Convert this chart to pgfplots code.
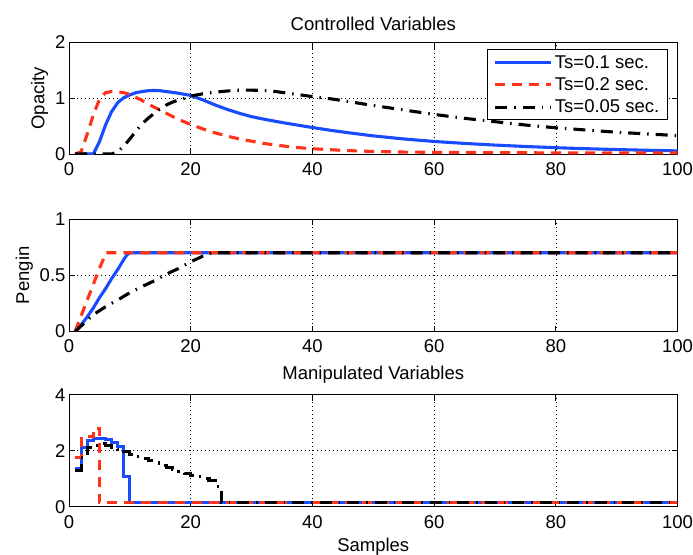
\documentclass[border=0pt]{standalone}
\usepackage{fontspec}
\setmainfont{Liberation Sans}
\usepackage{pgfplots}
\pgfplotsset{compat=1.18}

\definecolor{mblue}{rgb}{0.1,0.3,1}
\definecolor{mred}{rgb}{1,0.2,0.1}

\pgfplotsset{
  mat/.style={
    scale only axis, width=608.5pt, height=111.5pt,
    anchor=south west,
    xmin=0, xmax=100, xtick={0,20,...,100},
    grid=major,
    major grid style={black, line width=0.5pt, dash pattern=on 0.8pt off 3.2pt},
    axis line style={line width=0.9pt},
    tick style={black, line width=0.8pt},
    major tick length=6pt,
    tick align=inside,
    /pgf/number format/assume math mode=true,
    every tick label/.append style={font=\fontsize{18.5}{21}\selectfont},
    xticklabel style={yshift=-5pt},
    label style={font=\fontsize{18.5}{21}\selectfont},
    title style={font=\fontsize{18.5}{21}\selectfont, yshift=2pt},
    xlabel style={yshift=-3pt},
  },
  s1/.style={mblue, line width=3.1pt},
  s2/.style={mred, line width=3.1pt, dash pattern=on 10pt off 7pt},
  s3/.style={black, line width=3.1pt, dash pattern=on 12pt off 7pt on 1.5pt off 7pt},
}

\begin{document}
\begin{tikzpicture}
\useasboundingbox (0,0) rectangle (693pt,-554pt);

% controlled variable: opacity
\begin{axis}[mat, at={(69pt,-154pt)},
  ymin=0, ymax=2, ytick={0,1,2},
  ylabel={Opacity},
  title={Controlled Variables},
  legend style={at={(rel axis cs:0.984,0.94)}, anchor=north east,
    draw=black, line width=0.9pt, fill=white, inner xsep=6pt, inner ysep=3.5pt,
    font=\fontsize{18.5}{21}\selectfont, row sep=4pt},
  legend cell align=left,
  legend image code/.code={\draw[#1] (0pt,0pt) -- (56pt,0pt);},
]
\addplot[s1] coordinates {
(1,0) (4,0) (5,0.22) (6,0.52) (7,0.76) (8,0.92) (9,1.01) (10,1.06) (11,1.10)
(12,1.12) (13,1.135) (14,1.14) (15,1.135) (16,1.12) (18,1.09) (20,1.05)
(22,0.97) (24,0.88) (26,0.80) (28,0.73) (30,0.67) (32,0.625) (35,0.565)
(38,0.51) (40,0.475) (43,0.425) (46,0.38) (50,0.325) (55,0.27) (60,0.225)
(65,0.19) (70,0.16) (75,0.135) (80,0.113) (85,0.095) (90,0.08) (95,0.067) (100,0.056)
};
\addplot[s2] coordinates {
(1,0) (2,0.04) (3,0.36) (4,0.70) (5,0.98) (6,1.10) (7,1.12) (8,1.115) (9,1.10)
(10,1.07) (12,0.96) (14,0.84) (16,0.73) (18,0.62) (20,0.53) (22,0.45)
(24,0.38) (26,0.32) (28,0.27) (30,0.23) (32,0.19) (34,0.16) (37,0.12)
(40,0.095) (45,0.065) (50,0.045) (55,0.035) (60,0.03) (70,0.025) (80,0.02)
(90,0.02) (100,0.02)
};
\addplot[s3] coordinates {
(1,0) (7,0) (8,0.04) (9,0.14) (10,0.27) (11,0.41) (12,0.54) (13,0.64) (14,0.73)
(15,0.81) (16,0.88) (17,0.93) (18,0.97) (19,1.00) (20,1.04) (22,1.08)
(24,1.11) (26,1.13) (28,1.145) (30,1.145) (32,1.14) (34,1.12) (36,1.09)
(38,1.06) (40,1.03) (43,0.99) (46,0.94) (50,0.87) (55,0.79) (60,0.71)
(65,0.64) (70,0.58) (75,0.52) (80,0.47) (85,0.43) (90,0.39) (95,0.36) (100,0.33)
};
\legend{Ts=0.1 sec., Ts=0.2 sec., Ts=0.05 sec.}
\end{axis}

% controlled variable: pengin
\begin{axis}[mat, at={(69pt,-331.5pt)}, height=112.5pt,
  ymin=0, ymax=1, ytick={0,0.5,1},
  ylabel={Pengin},
]
\addplot[s1] coordinates {
(1,0) (2,0.06) (3,0.13) (4,0.21) (5,0.30) (6,0.38) (7,0.47) (8,0.55) (9,0.64)
(9.5,0.68) (10,0.70) (100,0.70)
};
\addplot[s2] coordinates {
(1,0) (2,0.14) (3,0.28) (4,0.42) (5,0.56) (6.1,0.70) (100,0.70)
};
\addplot[s3] coordinates {
(1,0) (2,0.05) (4,0.15) (6,0.22) (8,0.28) (10,0.345) (12,0.40) (14,0.45)
(16,0.51) (18,0.56) (20,0.62) (22,0.67) (23.5,0.70) (100,0.70)
};
\end{axis}

% manipulated variable
\begin{axis}[mat, at={(69pt,-506.7pt)}, height=112pt,
  ymin=0, ymax=4, ytick={0,2,4},
  title={Manipulated Variables},
  xlabel={Samples},
]
\addplot[s1, const plot] coordinates {
(1,1.37) (2,2.10) (3,2.36) (4,2.44) (5,2.44) (6,2.40) (7,2.30) (8,2.15)
(9,1.08) (10,0.15) (100,0.15)
};
\addplot[s2, const plot] coordinates {
(1,1.75) (2,2.50) (3,2.50) (4,2.80) (5,0.15) (100,0.15)
};
\addplot[s3, const plot] coordinates {
(1,1.30) (2,1.75) (3,2.10) (4,2.20) (5,2.25) (6,2.20) (7,2.12) (8,2.05)
(9,1.97) (10,1.88) (11,1.80) (12,1.72) (13,1.64) (14,1.56) (15,1.48)
(16,1.41) (17,1.34) (18,1.27) (19,1.20) (20,1.13) (21,1.07) (22,1.01)
(23,0.95) (24,0.72) (25,0.15) (100,0.15)
};
\end{axis}
\end{tikzpicture}
\end{document}
